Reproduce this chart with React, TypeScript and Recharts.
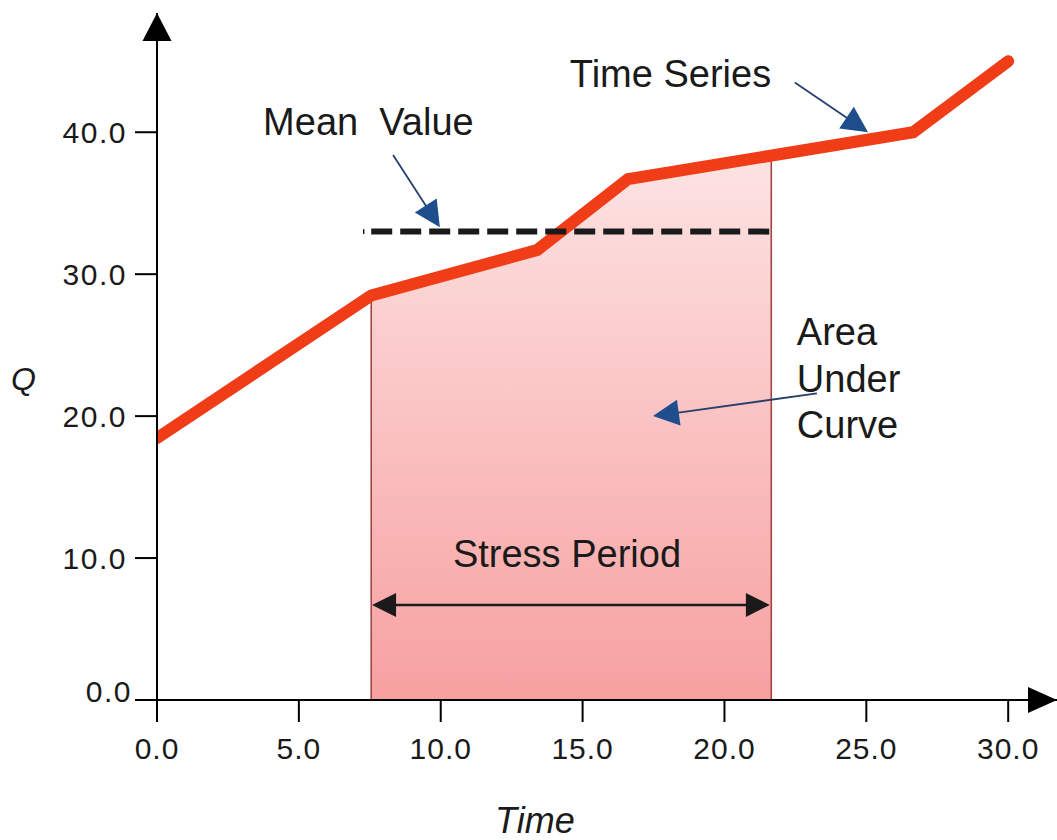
import {
  Area,
  ComposedChart,
  Line,
  ReferenceDot,
  ReferenceLine,
  XAxis,
  YAxis,
} from "recharts";

// time series (Q against time)
const TIME = [0, 7.55, 13.4, 16.6, 26.65, 30.0];
const Q = [18.45, 28.5, 31.7, 36.7, 40.0, 45.0];

// shaded stress period: curve read between its two edges
const STRESS_TIME = [7.55, 13.4, 16.6, 21.65];
const STRESS_Q = [28.5, 31.7, 36.7, 38.3];

const MEAN_Q = 33.0;
const MEAN_SPAN = [7.55, 21.65];
const MEAN_TICK = 7.26; // the little lead-in mark before the dashes

const X_TICKS = [0, 5, 10, 15, 20, 25, 30];
const Y_TICKS = [0, 10, 20, 30, 40];
const X_MAX = 31.72;
const Y_MAX = 48.4;

const RED = "#F03C17";
const INK = "#1a1a1a";
const BLUE = "#1F4E8C";
const BLUE_LINE = "#26406B";
const EDGE = "#A04444";
const FONT = "'Liberation Sans', Arial, Helvetica, sans-serif";

const seriesRows = TIME.map((t, i) => ({ t, q: Q[i] }));
const stressRows = STRESS_TIME.map((t, i) => ({ t, q: STRESS_Q[i] }));

// callouts, in data units: [from, to]
const CALLOUTS = [
  { from: { x: 8.32, y: 38.4 }, to: { x: 9.97, y: 33.3 } }, // mean value
  { from: { x: 22.48, y: 43.5 }, to: { x: 25.06, y: 40.0 } }, // time series
  { from: { x: 23.26, y: 21.6 }, to: { x: 17.48, y: 20.0 } }, // area
];
const STRESS_ARROW = [
  { x: 7.58, y: 6.7 },
  { x: 21.6, y: 6.7 },
];

function headPoints(tx: number, ty: number, a: number, len: number, half: number) {
  const bx = tx - len * Math.cos(a);
  const by = ty - len * Math.sin(a);
  const nx = -Math.sin(a) * half;
  const ny = Math.cos(a) * half;
  return `${tx},${ty} ${bx + nx},${by + ny} ${bx - nx},${by - ny}`;
}

function arrow(opts: {
  head: string;
  line: string;
  width: number;
  len: number;
  half: number;
  both?: boolean;
}) {
  return (p: any) => {
    const { x1, y1, x2, y2 } = p;
    const a = Math.atan2(y2 - y1, x2 - x1);
    const sx = opts.both ? x1 + (opts.len - 2) * Math.cos(a) : x1;
    const sy = opts.both ? y1 + (opts.len - 2) * Math.sin(a) : y1;
    const ex = x2 - (opts.len - 2) * Math.cos(a);
    const ey = y2 - (opts.len - 2) * Math.sin(a);
    return (
      <g>
        <line x1={sx} y1={sy} x2={ex} y2={ey} stroke={opts.line} strokeWidth={opts.width} />
        <polygon points={headPoints(x2, y2, a, opts.len, opts.half)} fill={opts.head} />
        {opts.both && (
          <polygon points={headPoints(x1, y1, a + Math.PI, opts.len, opts.half)} fill={opts.head} />
        )}
      </g>
    );
  };
}

const blueArrow = arrow({ head: BLUE, line: BLUE_LINE, width: 1.8, len: 26, half: 13 });
const stressArrow = arrow({ head: INK, line: INK, width: 2.5, len: 24, half: 12, both: true });

function textAt(lines: string[], size = 38, gap = 46.5) {
  return (p: any) => (
    <text
      x={p.cx}
      y={p.cy}
      fontSize={size}
      fontFamily={FONT}
      fill={INK}
      style={{ whiteSpace: "pre" }}
    >
      {lines.map((l, i) => (
        <tspan key={l} x={p.cx} dy={i === 0 ? 0 : gap}>
          {l}
        </tspan>
      ))}
    </text>
  );
}

const YTick = (p: any) => {
  const v = p.payload.value as number;
  const zero = v === 0;
  return (
    <text
      x={p.x + (zero ? 5 : 0)}
      y={p.y + (zero ? -9 : 0)}
      dy="0.36em"
      textAnchor="end"
      fontSize={30}
      fontFamily={FONT}
      fill={INK}
      letterSpacing={1.5}
    >
      {v.toFixed(1)}
    </text>
  );
};

const XTick = (p: any) => (
  <text
    x={p.x}
    y={p.y}
    dy="0.71em"
    textAnchor="middle"
    fontSize={30}
    fontFamily={FONT}
    fill={INK}
    letterSpacing={1}
  >
    {(p.payload.value as number).toFixed(1)}
  </text>
);

export default function App() {
  return (
    <div style={{ position: "fixed", top: 0, left: 0, width: 1057, height: 840, background: "#fff" }}>
      <ComposedChart
        width={1057}
        height={840}
        margin={{ top: 13, right: 0, bottom: 0, left: 0 }}
      >
        <defs>
          <linearGradient id="stressFill" x1="0" y1="0" x2="0" y2="1">
            <stop offset="0%" stopColor="#FDE3E3" />
            <stop offset="100%" stopColor="#F7A0A0" />
          </linearGradient>
        </defs>
        <XAxis
          dataKey="t"
          type="number"
          domain={[0, X_MAX]}
          allowDataOverflow
          ticks={X_TICKS}
          height={140}
          stroke="#000"
          axisLine={{ stroke: "#000", strokeWidth: 2 }}
          tickLine={{ stroke: "#000", strokeWidth: 2 }}
          tickSize={22}
          tickMargin={16}
          tick={<XTick />}
          label={{
            content: (lp: any) => (
              <text
                x={lp.viewBox.x + 338}
                y={lp.viewBox.y + 133}
                fontSize={36}
                fontStyle="italic"
                fontFamily={FONT}
                fill={INK}
              >
                Time
              </text>
            ),
          }}
        />
        <YAxis
          type="number"
          domain={[0, Y_MAX]}
          allowDataOverflow
          ticks={Y_TICKS}
          width={157}
          axisLine={{ stroke: "#000", strokeWidth: 2 }}
          tickLine={{ stroke: "#000", strokeWidth: 2 }}
          tickSize={22}
          tickMargin={8}
          tick={<YTick />}
          label={{
            content: (lp: any) => (
              <text
                x={lp.viewBox.x + 11}
                y={390}
                fontSize={32}
                fontStyle="italic"
                fontFamily={FONT}
                fill={INK}
              >
                Q
              </text>
            ),
          }}
        />

        <Area
          data={stressRows}
          dataKey="q"
          type="linear"
          baseValue={0}
          fill="url(#stressFill)"
          fillOpacity={1}
          stroke="none"
          dot={false}
          activeDot={false}
          isAnimationActive={false}
        />
        <ReferenceLine
          segment={[
            { x: STRESS_TIME[0], y: 0 },
            { x: STRESS_TIME[0], y: STRESS_Q[0] },
          ]}
          stroke={EDGE}
          strokeWidth={1.6}
          ifOverflow="visible"
        />
        <ReferenceLine
          segment={[
            { x: STRESS_TIME[STRESS_TIME.length - 1], y: 0 },
            { x: STRESS_TIME[STRESS_TIME.length - 1], y: STRESS_Q[STRESS_Q.length - 1] },
          ]}
          stroke={EDGE}
          strokeWidth={1.6}
          ifOverflow="visible"
        />

        <Line
          data={seriesRows}
          dataKey="q"
          type="linear"
          stroke={RED}
          strokeWidth={12}
          strokeLinecap="round"
          dot={false}
          activeDot={false}
          isAnimationActive={false}
        />

        <ReferenceLine
          segment={[
            { x: MEAN_TICK, y: MEAN_Q },
            { x: MEAN_TICK + 0.05, y: MEAN_Q },
          ]}
          stroke={INK}
          strokeWidth={5}
          ifOverflow="visible"
        />
        <ReferenceLine
          segment={[
            { x: MEAN_SPAN[0], y: MEAN_Q },
            { x: MEAN_SPAN[1], y: MEAN_Q },
          ]}
          stroke={INK}
          strokeWidth={6}
          strokeDasharray="21 8"
          ifOverflow="visible"
        />

        {CALLOUTS.map((c, i) => (
          <ReferenceLine
            key={i}
            segment={[c.from, c.to]}
            ifOverflow="visible"
            shape={blueArrow}
          />
        ))}
        <ReferenceLine segment={STRESS_ARROW} ifOverflow="visible" shape={stressArrow} />

        <ReferenceDot x={14.55} y={43.2} ifOverflow="visible" shape={textAt(["Time Series"])} />
        <ReferenceDot x={3.74} y={39.8} ifOverflow="visible" shape={textAt(["Mean  Value"])} />
        <ReferenceDot
          x={22.55}
          y={25.0}
          ifOverflow="visible"
          shape={textAt(["Area", "Under", "Curve"])}
        />
        <ReferenceDot x={10.43} y={9.37} ifOverflow="visible" shape={textAt(["Stress Period"])} />

        {/* axis arrowheads */}
        <ReferenceDot
          x={X_MAX}
          y={0}
          ifOverflow="visible"
          shape={(p: any) => (
            <polygon
              points={`${p.cx},${p.cy} ${p.cx - 29},${p.cy - 13} ${p.cx - 29},${p.cy + 13}`}
              fill="#000"
            />
          )}
        />
        <ReferenceDot
          x={0}
          y={Y_MAX}
          ifOverflow="visible"
          shape={(p: any) => (
            <polygon
              points={`${p.cx},${p.cy} ${p.cx - 14.5},${p.cy + 28} ${p.cx + 14.5},${p.cy + 28}`}
              fill="#000"
            />
          )}
        />
      </ComposedChart>
    </div>
  );
}
